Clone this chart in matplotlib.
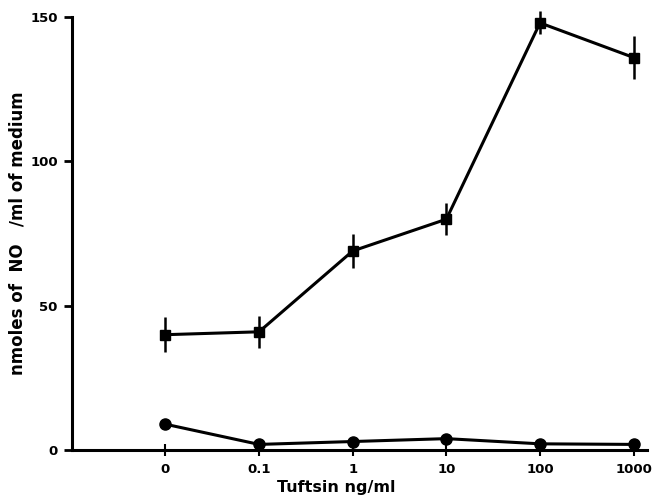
import matplotlib
matplotlib.use('Agg')
import matplotlib.pyplot as plt

plt.rcParams['font.family'] = ['DejaVu Sans']

# data
doses = ['0', '0.1', '1', '10', '100', '1000']
tuftsin_no = [40, 41, 69, 80, 148, 136]
tuftsin_err = [6, 5.5, 6, 5.5, 4, 7.5]
control_no = [9, 2, 3, 4, 2.2, 2]

xpos = list(range(len(doses)))

fig = plt.figure(figsize=(6.52, 5.03), dpi=100)
ax = fig.add_axes([0.110, 0.105, 0.882, 0.861])

ax.errorbar(xpos, tuftsin_no, yerr=tuftsin_err, fmt='s-', color='black',
            lw=2.2, ms=7, elinewidth=1.8, capsize=0, clip_on=False, zorder=3)
ax.plot(xpos, control_no, 'o-', color='black', lw=2.2, ms=8, clip_on=False, zorder=3)

ax.set_xlim(-1, 5.14)
ax.set_ylim(0, 150)
ax.set_yticks([0, 50, 100, 150])
ax.set_xticks(xpos)
ax.set_xticklabels(doses)

for s in ['top', 'right']:
    ax.spines[s].set_visible(False)
for s in ['left', 'bottom']:
    ax.spines[s].set_linewidth(2.2)

ax.tick_params(axis='y', direction='out', length=6, width=2, labelsize=9.5, pad=4)
ax.tick_params(axis='x', direction='inout', length=8, width=1.5, labelsize=9.5, pad=5)
for lab in ax.get_xticklabels() + ax.get_yticklabels():
    lab.set_fontweight('bold')

ax.set_ylabel('nmoles of  NO   /ml of medium', fontsize=12, fontweight='bold')
ax.yaxis.set_label_coords(-0.078, 0.5)
ax.set_xlabel('Tuftsin ng/ml', fontsize=11.5, fontweight='bold')
ax.xaxis.set_label_coords(0.46, -0.068)

fig.savefig('out.png', dpi=100)
